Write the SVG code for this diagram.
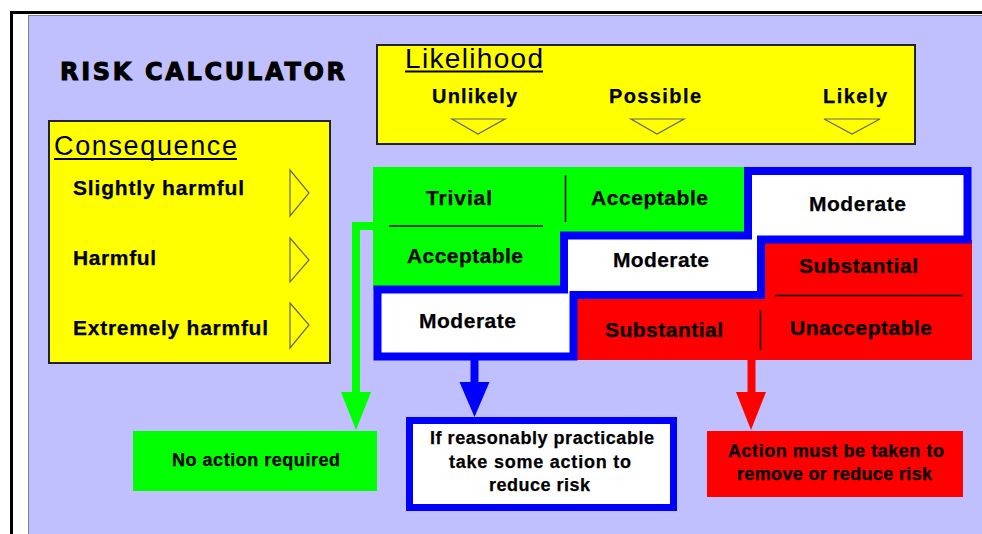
<svg xmlns="http://www.w3.org/2000/svg" width="982" height="534" viewBox="0 0 982 534">
<style>
.b{font-family:"Liberation Sans",Arial,sans-serif;font-weight:bold;fill:#000;stroke:#000;stroke-width:0.25}
.t{font-family:"Liberation Sans",Arial,sans-serif;font-weight:normal;fill:#000}
.ybox{fill:#FFFF00;stroke:#222;stroke-width:2}
.tri{fill:none;stroke:#666;stroke-width:1.2}
.div{stroke:#000;stroke-width:1.5}
</style>
<rect x="0" y="0" width="982" height="534" fill="#FFFFFF"/>
<rect x="10" y="11" width="972" height="3" fill="#000"/>
<rect x="10" y="11" width="3" height="523" fill="#000"/>
<rect x="28" y="15" width="954" height="519" fill="#808080"/>
<rect x="29" y="16" width="953" height="518" fill="#C0C0FF"/>

<g id="title">
<text x="60" y="80" font-family="'DejaVu Sans',sans-serif" font-weight="bold" font-size="24" textLength="285" stroke="#000" stroke-width="1">RISK CALCULATOR</text>
</g>

<g id="likelihood">
<rect class="ybox" x="377" y="45" width="538" height="99"/>
<text class="t" x="405" y="68" font-size="28" textLength="138">Likelihood</text>
<rect x="405" y="70.5" width="138" height="2" fill="#000"/>
<text class="b" x="432" y="103" font-size="20" textLength="85">Unlikely</text>
<text class="b" x="609" y="103" font-size="20" textLength="92">Possible</text>
<text class="b" x="823" y="103" font-size="20" textLength="64">Likely</text>
<polygon class="tri" points="452,119 505,119 478,134"/>
<polygon class="tri" points="631,119 684,119 657,134"/>
<polygon class="tri" points="824,119 880,119 852,134"/>
</g>

<g id="consequence">
<rect class="ybox" x="49" y="121" width="281" height="242"/>
<text class="t" x="54" y="155" font-size="27" textLength="183">Consequence</text>
<rect x="54" y="158" width="183" height="2" fill="#000"/>
<text class="b" x="73" y="195" font-size="21" textLength="171">Slightly harmful</text>
<text class="b" x="73" y="265" font-size="21" textLength="83">Harmful</text>
<text class="b" x="73" y="335" font-size="21" textLength="195">Extremely harmful</text>
<polygon class="tri" points="290,170 309,193 290,216"/>
<polygon class="tri" points="290,238 309,260 290,282"/>
<polygon class="tri" points="290,303 309,325 290,348"/>
</g>

<g id="connectors">
<polyline points="373,226 356,226 356,394" fill="none" stroke="#00FF00" stroke-width="8" stroke-linejoin="miter"/>
<polygon points="341,392 371,392 356,430" fill="#00FF00"/>
<line x1="474.5" y1="358" x2="474.5" y2="384" stroke="#0000FF" stroke-width="8"/>
<polygon points="459.5,382 489.5,382 474.5,417" fill="#0000FF"/>
<line x1="751.5" y1="358" x2="751.5" y2="394" stroke="#FF0000" stroke-width="8"/>
<polygon points="736,392 766,392 751,430" fill="#FF0000"/>
</g>

<g id="grid-green">
<polygon points="373,167 748,167 748,236 564,236 564,290 373,290" fill="#00FF00"/>
<line class="div" x1="565.5" y1="175" x2="565.5" y2="222"/>
<line class="div" x1="389" y1="226" x2="543" y2="226"/>
<text class="b" x="426" y="205" font-size="21" textLength="66">Trivial</text>
<text class="b" x="591" y="205" font-size="21" textLength="117">Acceptable</text>
<text class="b" x="407" y="263" font-size="21" textLength="116">Acceptable</text>
</g>

<g id="grid-red">
<polygon points="761,240 972,240 972,360 574,360 574,295 761,295" fill="#FF0000"/>
<line class="div" x1="775" y1="295.5" x2="963" y2="295.5"/>
<line class="div" x1="760.5" y1="310" x2="760.5" y2="350"/>
<text class="b" x="799" y="273" font-size="21" textLength="119">Substantial</text>
<text class="b" x="605" y="337" font-size="21" textLength="118">Substantial</text>
<text class="b" x="790" y="335" font-size="21" textLength="142">Unacceptable</text>
</g>

<g id="grid-moderate">
<polygon points="748,171 967.5,171 967.5,239.5 761,239.5 761,295 573.5,295 573.5,356.5 377.5,356.5 377.5,289.5 564,289.5 564,235.5 748,235.5" fill="#FFFFFF" stroke="#0000FF" stroke-width="8" stroke-linejoin="miter"/>
<text class="b" x="809" y="211" font-size="21" textLength="97">Moderate</text>
<text class="b" x="613" y="267" font-size="21" textLength="96">Moderate</text>
<text class="b" x="419" y="328" font-size="21" textLength="97">Moderate</text>
</g>

<g id="no-action">
<rect x="133" y="431" width="244" height="60" fill="#00FF00"/>
<text class="b" x="256" y="466" font-size="18" text-anchor="middle" textLength="168">No action required</text>
</g>

<g id="practicable">
<rect x="409.5" y="420.5" width="264" height="87" fill="#FFFFFF" stroke="#0000FF" stroke-width="7"/>
<text class="b" x="542" y="444" font-size="18" text-anchor="middle" textLength="224">If reasonably practicable</text>
<text class="b" x="540" y="468" font-size="18" text-anchor="middle" textLength="182">take some action to</text>
<text class="b" x="539.5" y="491" font-size="18" text-anchor="middle" textLength="101">reduce risk</text>
</g>

<g id="must-act">
<rect x="707" y="431" width="256" height="66" fill="#FF0000"/>
<text class="b" x="836" y="457" font-size="18" text-anchor="middle" textLength="216">Action must be taken to</text>
<text class="b" x="834.5" y="480" font-size="18" text-anchor="middle" textLength="195">remove or reduce risk</text>
</g>
</svg>
